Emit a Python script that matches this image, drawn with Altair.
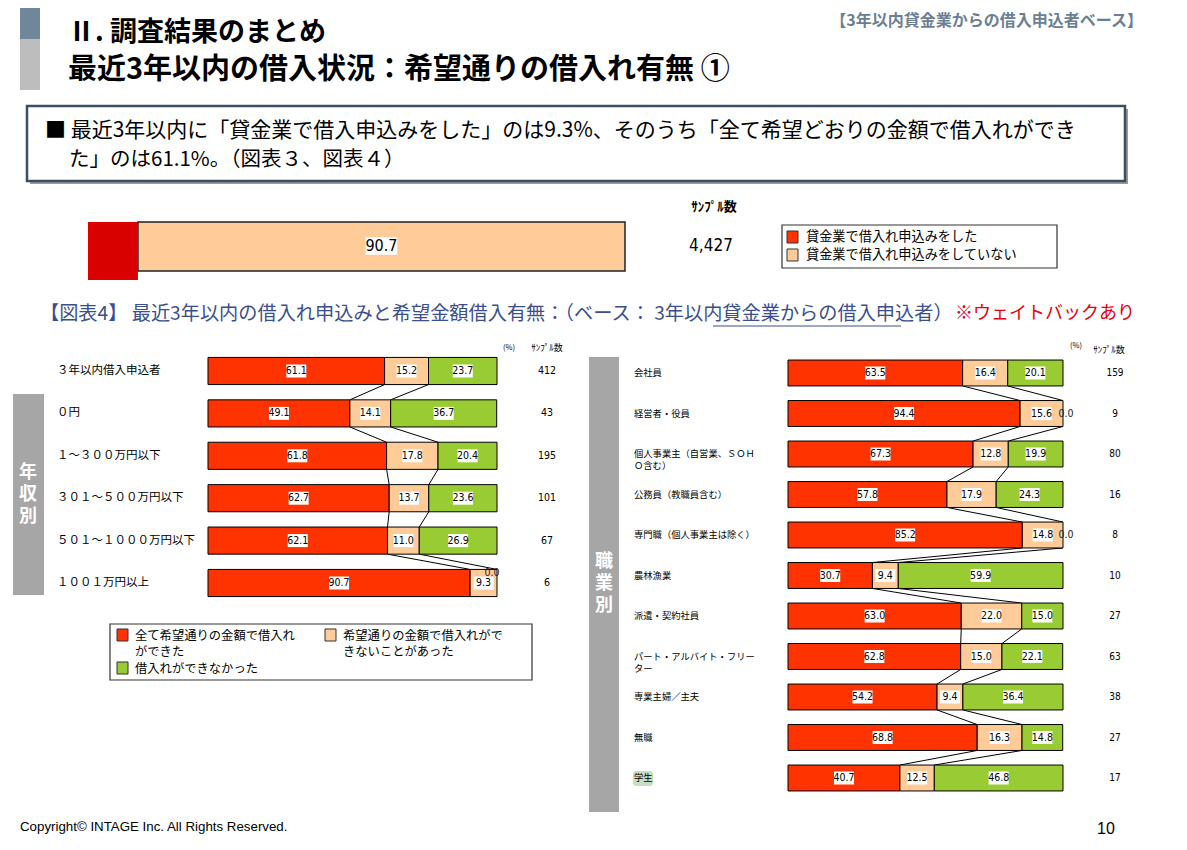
import altair as alt
import pandas as pd

JP = "Noto Sans CJK JP"
NUM = "'Liberation Sans Narrow', 'DejaVu Sans Condensed', 'Noto Sans CJK JP', sans-serif"
ARIAL = "'Liberation Sans', Arial, sans-serif"

# ---------------- data ----------------
TOP_SEGS = ["貸金業で借入れ申込みをした", "貸金業で借入れ申込みをしていない"]
top_vals = [9.3, 90.7]
top_n = "4,427"

SEGS = ["全て希望通りの金額で借入れができた", "希望通りの金額で借入れができないことがあった", "借入れができなかった"]
SEG_COLORS = ["#FF3300", "#FFCC99", "#99CC33"]

inc_cats = ["３年以内借入申込者", "０円", "１～３００万円以下", "３０１～５００万円以下",
            "５０１～１０００万円以下", "１００１万円以上"]
inc_full = [61.1, 49.1, 61.8, 62.7, 62.1, 90.7]
inc_part = [15.2, 14.1, 17.8, 13.7, 11.0, 9.3]
inc_none = [23.7, 36.7, 20.4, 23.6, 26.9, 0.0]
inc_n = [412, 43, 195, 101, 67, 6]

job_cats = ["会社員", "経営者・役員", "個人事業主（自営業、ＳＯＨ\nＯ含む）", "公務員（教職員含む）",
            "専門職（個人事業主は除く）", "農林漁業", "派遣・契約社員", "パート・アルバイト・フリー\nター",
            "専業主婦／主夫", "無職", "学生"]
job_full = [63.5, 84.4, 67.3, 57.8, 85.2, 30.7, 63.0, 62.8, 54.2, 68.8, 40.7]
job_full_printed = [63.5, 94.4, 67.3, 57.8, 85.2, 30.7, 63.0, 62.8, 54.2, 68.8, 40.7]
job_part = [16.4, 15.6, 12.8, 17.9, 14.8, 9.4, 22.0, 15.0, 9.4, 16.3, 12.5]
job_none = [20.1, 0.0, 19.9, 24.3, 0.0, 59.9, 15.0, 22.1, 36.4, 14.8, 46.8]
job_n = [159, 9, 80, 16, 8, 10, 27, 63, 38, 27, 17]

one = pd.DataFrame({"a": [0]})
BOXSHAPE = "M-1,-0.65L1,-0.65L1,0.65L-1,0.65Z"


def txt(s, x, y, size=12, weight="normal", color="black", align="left", font=JP, **kw):
    return alt.Chart(one).mark_text(text=s, fontSize=size, fontWeight=weight, color=color,
                                    align=align, baseline="middle", font=font, **kw).encode(
        x=alt.value(x), y=alt.value(y))


def rect(x1, y1, x2, y2, fill, stroke=None, sw=1, **kw):
    props = dict(fill=fill, **kw)
    if stroke:
        props.update(stroke=stroke, strokeWidth=sw)
    return alt.Chart(one).mark_rect(**props).encode(
        x=alt.value(x1), x2=alt.value(x2), y=alt.value(y1), y2=alt.value(y2))


def panel(cats, full, part, none, ns, printed, xr, yr, lab_x, lab_size, n_x, n_size, zero_dx, zero_dy, zero_align):
    nrow = len(cats)
    xs = alt.Scale(domain=[0, 100], range=xr)
    ys = alt.Scale(domain=[-0.5, nrow - 0.5], range=yr)
    rows = []
    for i in range(nrow):
        s = 0.0
        for k, v in enumerate([full[i], part[i], none[i]]):
            lab = printed[i] if k == 0 else v
            rows.append(dict(idx=i, seg=SEGS[k], start=s, end=s + v, mid=s + v / 2,
                             val=v, lab=f"{lab:.1f}", cat=cats[i], n=str(ns[i])))
            s += v
    df = pd.DataFrame(rows)
    cons = []
    for i in range(nrow - 1):
        for b_a, b_b in [(full[i], full[i + 1]),
                         (full[i] + part[i], full[i + 1] + part[i + 1])]:
            cons.append(dict(xa=b_a, xb=b_b, ya=i + 0.32, yb=i + 1 - 0.32))
    cdf = pd.DataFrame(cons)
    base = alt.Chart(df)
    bars = base.transform_filter("datum.val > 0").transform_calculate(
        y0="datum.idx - 0.32", y1="datum.idx + 0.32").mark_rect(
        stroke="black", strokeWidth=1).encode(
        x=alt.X("start:Q", scale=xs, axis=None), x2="end:Q",
        y=alt.Y("y0:Q", scale=ys, axis=None), y2="y1:Q",
        color=alt.Color("seg:N", scale=alt.Scale(domain=SEGS, range=SEG_COLORS), legend=None))
    conn = alt.Chart(cdf).mark_rule(color="black", strokeWidth=1).encode(
        x=alt.X("xa:Q", scale=xs, axis=None), x2="xb:Q",
        y=alt.Y("ya:Q", scale=ys, axis=None), y2="yb:Q")
    wbox = base.transform_filter("datum.val > 0").mark_point(
        shape=BOXSHAPE, size=400, filled=True, fill="white", opacity=1, strokeWidth=0).encode(
        x=alt.X("mid:Q", scale=xs, axis=None), y=alt.Y("idx:Q", scale=ys, axis=None))
    labs = base.transform_filter("datum.val > 0").mark_text(
        fontSize=10.5, font=NUM, color="black").encode(
        x=alt.X("mid:Q", scale=xs, axis=None), y=alt.Y("idx:Q", scale=ys, axis=None), text="lab:N")
    zlabs = base.transform_filter("datum.val == 0").mark_text(
        fontSize=10.5, font=NUM, color="#222", dx=zero_dx, dy=zero_dy, align=zero_align).encode(
        x=alt.X("end:Q", scale=xs, axis=None), y=alt.Y("idx:Q", scale=ys, axis=None), text="lab:N")
    catdf = df[df.seg == SEGS[0]]
    catl = alt.Chart(catdf).mark_text(align="left", fontSize=lab_size, font=JP, lineBreak="\n",
                                      lineHeight=12, color="black").encode(
        x=alt.value(lab_x), y=alt.Y("idx:Q", scale=ys, axis=None), text="cat:N")
    nl = alt.Chart(catdf).mark_text(align="center", fontSize=n_size, font=NUM, color="black").encode(
        x=alt.value(n_x), y=alt.Y("idx:Q", scale=ys, axis=None), text="n:N")
    return [conn, bars, wbox, labs, zlabs, catl, nl]


def vtext(chars, x, y):
    return alt.Chart(one).mark_text(text=chars, fontSize=18, fontWeight="bold", color="white",
                                    align="center", baseline="middle", font=JP, lineHeight=22).encode(
        x=alt.value(x), y=alt.value(y))


layers = []

# header
layers += [rect(12, 0, 32, 31, "#70869a"), rect(12, 31, 32, 82, "#bdbdbd")]
layers += [txt("Ⅱ. 調査結果のまとめ", 60, 25, size=27, weight="bold"),
           txt("最近3年以内の借入状況：希望通りの借入れ有無 ①", 60, 62, size=29, weight="bold"),
           txt("【3年以内貸金業からの借入申込者ベース】", 1135, 13, size=16, weight="bold",
               color="#6b7f93", align="right")]

# summary box
layers += [rect(22, 101, 1120, 176, "#9a9a9a"),
           rect(19, 98, 1117, 173, "white", stroke="#3d4f5f", sw=2.5),
           txt("■ 最近3年以内に「貸金業で借入申込みをした」のは9.3%、そのうち「全て希望どおりの金額で借入れができ",
               37, 123, size=21),
           txt("た」のは61.1%。（図表３、図表４）", 61, 152, size=20.5)]

# top single bar
top_df = pd.DataFrame({"seg": TOP_SEGS, "start": [0, top_vals[0]],
                       "end": [top_vals[0], top_vals[0] + top_vals[1]], "val": top_vals})
top_df["mid"] = (top_df.start + top_df.end) / 2
top_df["lab"] = top_df.val.map(lambda v: f"{v:.1f}")
txs = alt.Scale(domain=[0, 100], range=[80, 617])
tb = alt.Chart(top_df)
layers += [
    tb.transform_filter(alt.datum.seg == TOP_SEGS[1]).mark_rect(
        fill="#FFCC99", stroke="#222", strokeWidth=1.5).encode(
        x=alt.X("start:Q", scale=txs, axis=None), x2="end:Q", y=alt.value(214), y2=alt.value(263)),
    tb.transform_filter(alt.datum.seg == TOP_SEGS[0]).mark_rect(fill="#D90000").encode(
        x=alt.X("start:Q", scale=txs, axis=None), x2="end:Q", y=alt.value(214), y2=alt.value(272)),
    tb.transform_filter(alt.datum.seg == TOP_SEGS[1]).mark_point(
        shape="M-1,-0.55L1,-0.55L1,0.55L-1,0.55Z", size=1000, filled=True, fill="white",
        opacity=1, strokeWidth=0).encode(x=alt.X("mid:Q", scale=txs, axis=None), y=alt.value(238)),
    tb.transform_filter(alt.datum.seg == TOP_SEGS[1]).mark_text(
        fontSize=16, font=NUM, color="black").encode(
        x=alt.X("mid:Q", scale=txs, axis=None), y=alt.value(238), text="lab:N"),
]
layers += [txt("ｻﾝﾌﾟﾙ数", 706, 199, size=13, weight="bold", align="center"),
           txt(top_n, 703, 238, size=17, font=NUM, align="center"),
           rect(774, 217, 1049, 260, "white", stroke="#333", sw=1.2),
           rect(779, 223, 790, 235, "#FF3300", stroke="#333"),
           rect(779, 241, 790, 253, "#FFCC99", stroke="#333"),
           txt(TOP_SEGS[0], 798, 229, size=13.2),
           txt(TOP_SEGS[1], 798, 247, size=13.2)]

# subtitle
layers += [txt("【図表4】 最近3年以内の借入れ申込みと希望金額借入有無：（ベース： 3年以内貸金業からの借入申込者）",
               32, 306, size=19.2, color="#3a4f8c"),
           alt.Chart(one).mark_rule(color="#3a4f8c", strokeWidth=1).encode(
               x=alt.value(705), x2=alt.value(893), y=alt.value(318)),
           txt("※ウェイトバックあり", 947, 306, size=18, color="#E8000B")]

# left panel (income)
layers += [rect(5, 386, 36, 587, "#a6a6a6"),
           vtext(["年", "収", "別"], 20, 465),
           txt("(%)", 501, 340, size=7.5, align="center"),
           txt("ｻﾝﾌﾟﾙ数", 539, 340, size=9, align="center")]
layers += panel(inc_cats, inc_full, inc_part, inc_none, inc_n, inc_full,
                [200, 489], [341.8, 596.2], 49, 11.5, 539, 10.5, -5, -10, "center")

# right panel (occupation)
layers += [rect(581, 349, 611, 804, "#a6a6a6"),
           vtext(["職", "業", "別"], 596, 554),
           txt("(%)", 1068, 338, size=7.5, align="center"),
           txt("ｻﾝﾌﾟﾙ数", 1101, 342, size=9, align="center"),
           rect(625, 763, 645, 778, "#c6dfc0", cornerRadius=3)]
layers += panel(job_cats, job_full, job_part, job_none, job_n, job_full_printed,
                [780, 1055], [344.75, 790.25], 626, 9.3, 1107, 10, 3, 0, "center")

# bottom-left legend
layers += [rect(102, 616, 524, 672, "white", stroke="#333", sw=1.2),
           rect(109, 621, 120, 633, SEG_COLORS[0], stroke="#333"),
           rect(317, 621, 328, 633, SEG_COLORS[1], stroke="#333"),
           rect(109, 654, 120, 666, SEG_COLORS[2], stroke="#333"),
           alt.Chart(one).mark_text(text=["全て希望通りの金額で借入れ", "ができた"], fontSize=12.3, font=JP,
                                    align="left", baseline="middle", lineHeight=15.5).encode(
               x=alt.value(127), y=alt.value(628)),
           alt.Chart(one).mark_text(text=["希望通りの金額で借入れがで", "きないことがあった"], fontSize=12.3, font=JP,
                                    align="left", baseline="middle", lineHeight=15.5).encode(
               x=alt.value(335), y=alt.value(628)),
           txt(SEGS[2], 127, 661, size=12.3)]

# footer
layers += [txt("Copyright© INTAGE Inc. All Rights Reserved.", 12, 819, size=13.3, font=ARIAL),
           txt("10", 1089, 821, size=16, font=ARIAL)]

chart = alt.layer(*layers).properties(
    width=1171, height=834, padding=0,
    autosize=alt.AutoSizeParams(type="none")
).resolve_scale(x="independent", y="independent", color="independent").configure_view(stroke=None)

chart.save("out.html", embed_options={"renderer": "svg", "actions": False})
